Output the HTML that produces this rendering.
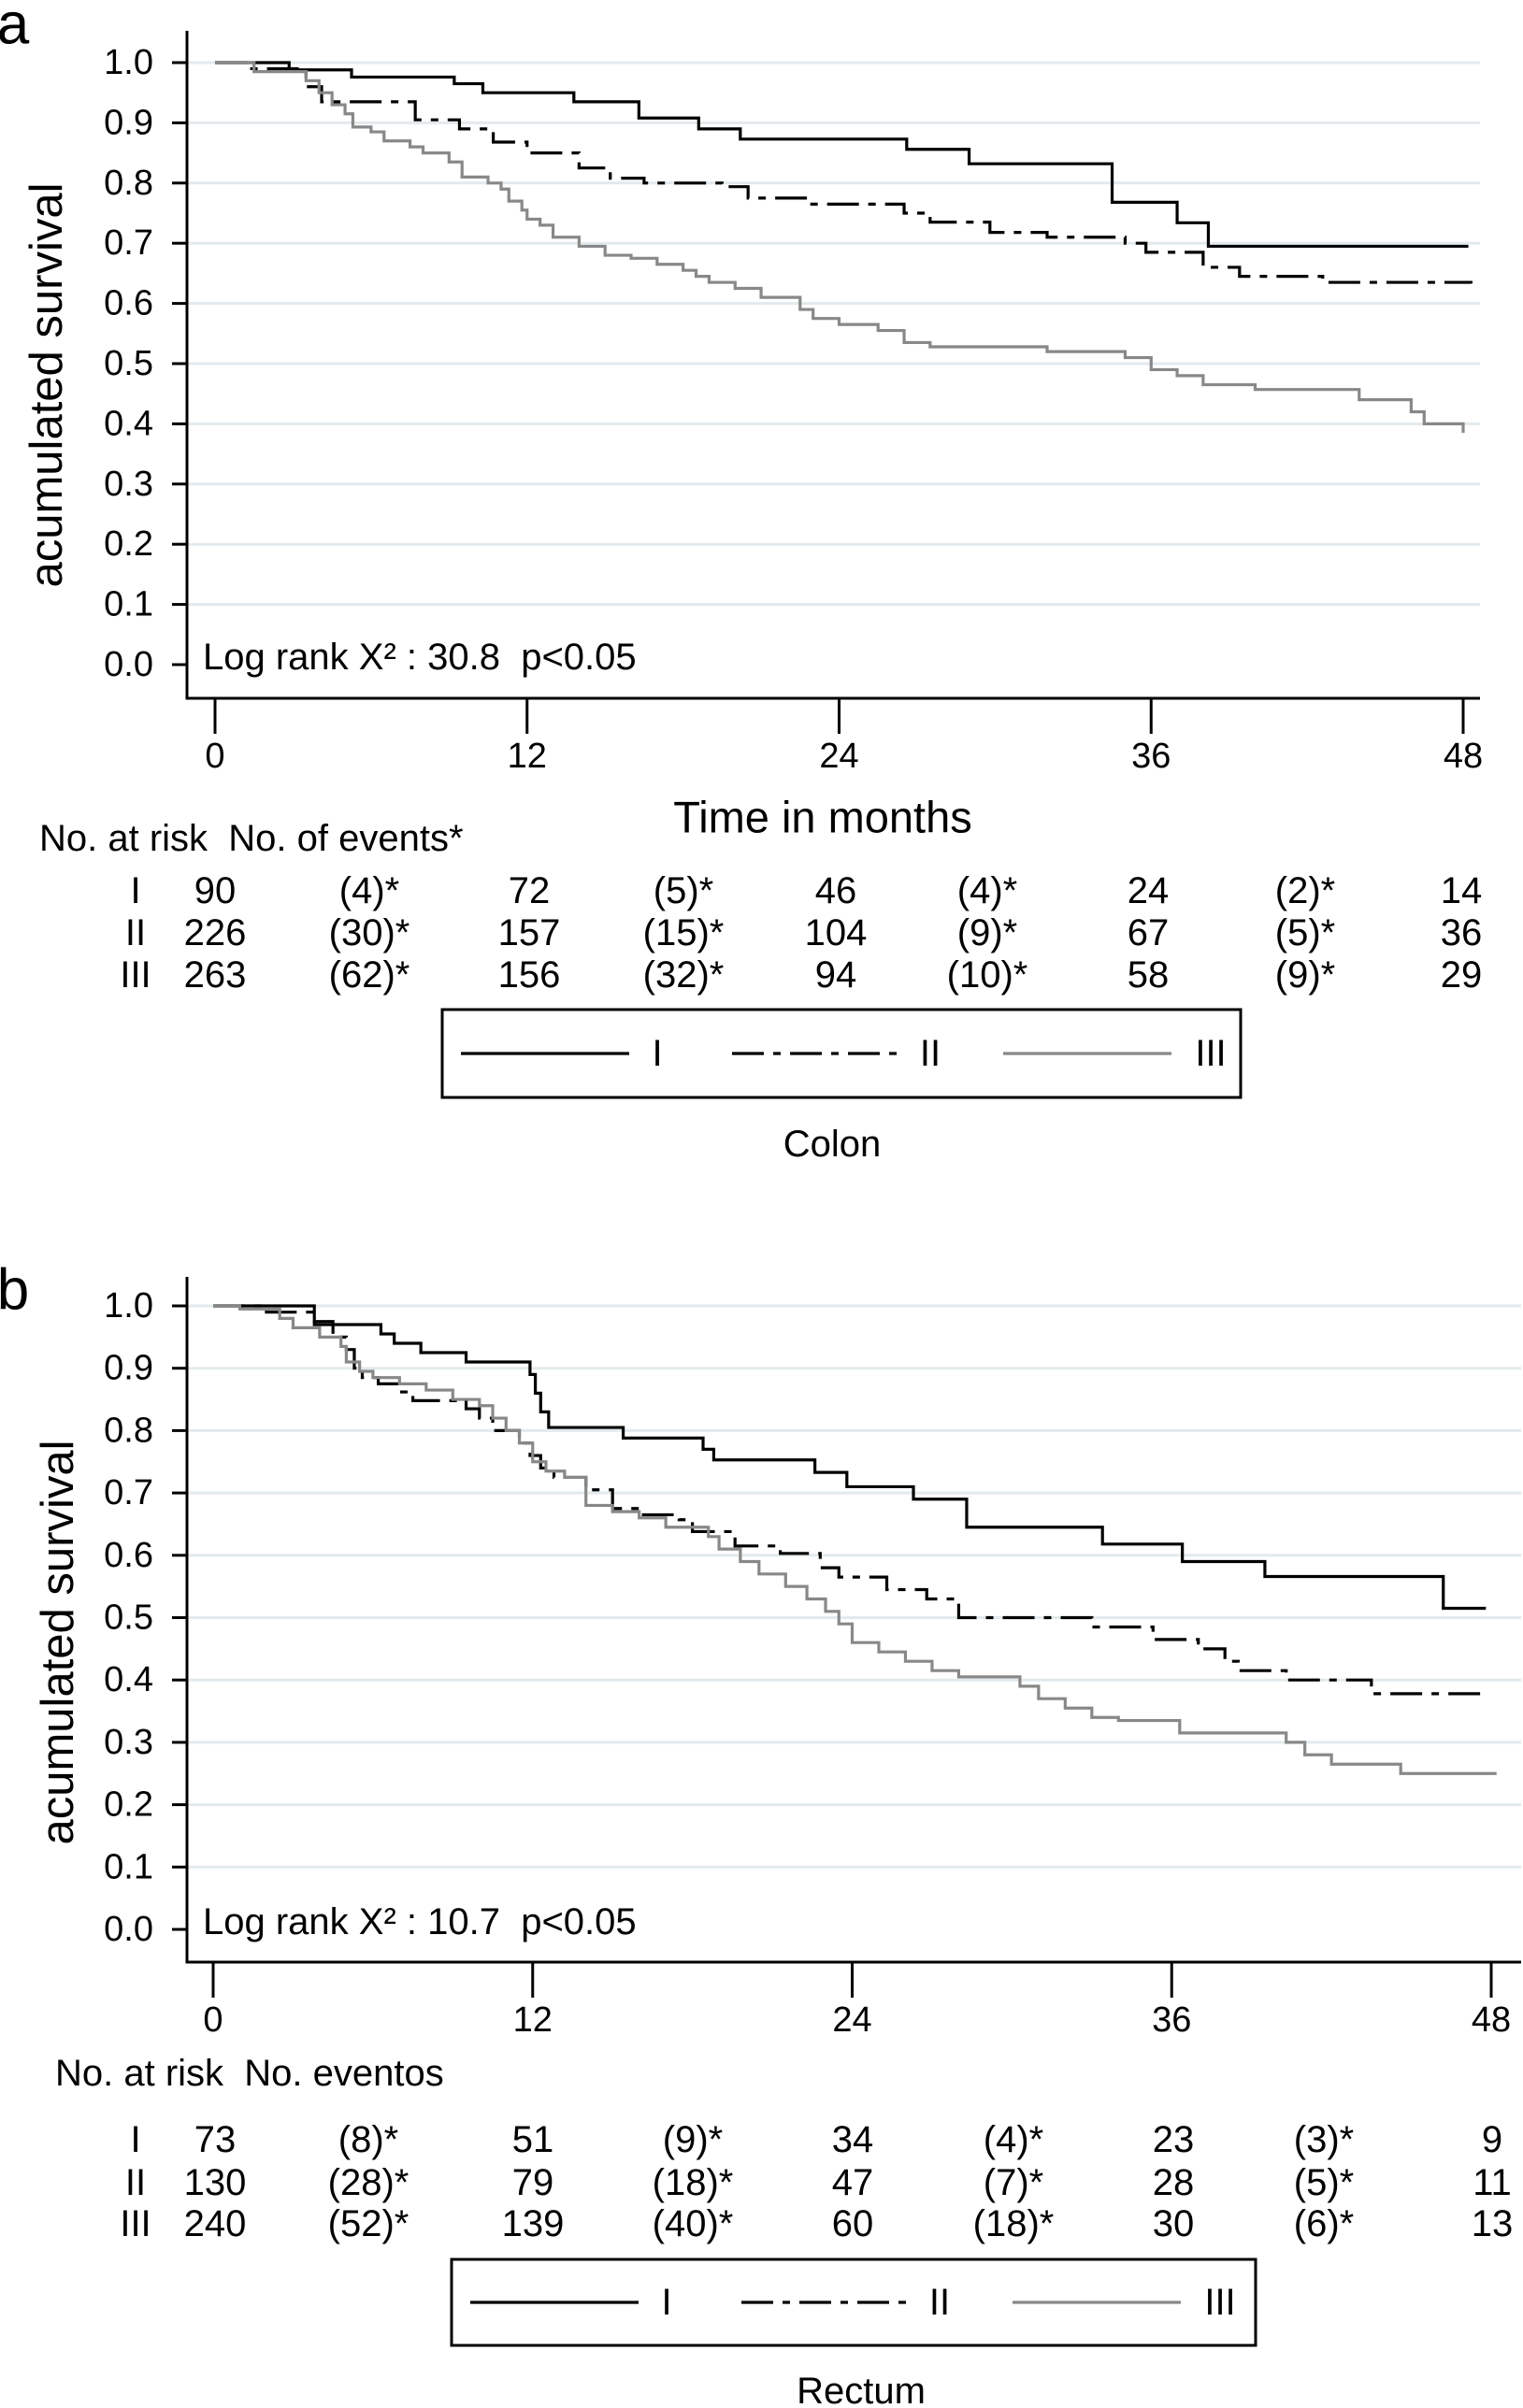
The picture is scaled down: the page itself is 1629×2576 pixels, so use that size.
<!DOCTYPE html>
<html><head><meta charset="utf-8"><style>
html,body{margin:0;padding:0;background:#fff;}
svg{display:block;font-family:"Liberation Sans",sans-serif;}
svg text{white-space:pre;}
</style></head><body>
<svg id="fig" width="1629" height="2576" viewBox="0 0 1629 2576" xmlns="http://www.w3.org/2000/svg" xml:space="preserve"></svg>
<script>
// ---------- data ----------
const yTicks = [0,0.1,0.2,0.3,0.4,0.5,0.6,0.7,0.8,0.9,1.0];
const xTicks = [0,12,24,36,48];
// Panel a (Colon)
const aI_t = [0,2.85,5.25,9.2,10.3,13.8,16.3,18.6,20.2,26.6,29,34.5,37,38.2,48.2];
const aI_s = [1,0.988,0.976,0.965,0.95,0.935,0.908,0.89,0.873,0.856,0.832,0.768,0.734,0.695,0.695];
const aII_t = [0,1.2,3.5,4.1,7.7,9.4,10.7,12,14,15.2,16.5,19.5,20.5,22.8,26.5,27.5,29.8,32,35,35.8,38,39.4,42.6,48.3];
const aII_s = [1,0.99,0.96,0.935,0.905,0.89,0.868,0.85,0.825,0.808,0.80,0.794,0.775,0.765,0.75,0.735,0.718,0.71,0.70,0.685,0.66,0.645,0.635,0.633];
const aIII_t = [0,1.5,3.5,4,4.5,5,5.3,6,6.5,7.5,8,9,9.5,10.5,11,11.3,11.8,12,12.5,13,14,15,16,17,18,18.5,19,20,21,22.5,23,24,25.5,26.5,27.5,32,35,36,37,38,40,44,46,46.5,48];
const aIII_s = [1,0.985,0.97,0.95,0.93,0.915,0.893,0.885,0.87,0.86,0.85,0.835,0.81,0.80,0.79,0.77,0.755,0.74,0.73,0.71,0.695,0.68,0.675,0.665,0.655,0.645,0.635,0.625,0.61,0.59,0.575,0.565,0.555,0.535,0.528,0.52,0.51,0.49,0.48,0.465,0.457,0.44,0.42,0.40,0.385];
// Panel b (Rectum)
const bI_t = [0,3.8,6.3,6.8,7.8,9.5,11.9,12.1,12.3,12.6,15.4,18.4,18.8,22.6,23.8,26.3,28.3,33.4,36.4,39.5,46.2,47.8];
const bI_s = [1,0.97,0.955,0.94,0.925,0.91,0.89,0.86,0.83,0.805,0.788,0.77,0.753,0.733,0.71,0.69,0.645,0.618,0.59,0.566,0.515,0.515];
const bII_t = [0,2,3.8,4.5,5,5.3,5.6,6.2,7,7.5,9.5,10,10.5,11.5,11.9,12.3,12.8,14,15,16,17.5,18,19.6,21.3,22.8,23.5,25.3,26.8,28,33,35.3,37,38,38.5,40.3,43.5,47.9];
const bII_s = [1,0.99,0.975,0.95,0.93,0.90,0.885,0.875,0.862,0.848,0.835,0.82,0.80,0.78,0.76,0.74,0.725,0.705,0.675,0.665,0.657,0.638,0.615,0.603,0.58,0.565,0.545,0.53,0.50,0.485,0.465,0.45,0.43,0.415,0.40,0.378,0.378];
const bIII_t = [0,1,2.5,3,4,4.8,5,5.5,6,7,8,9,10,10.5,11,11.5,12,12.5,13.2,14,15,16,17,18.6,19,19.8,20.5,21.5,22.3,23,23.5,24,25,26,27,28,30.3,31,32,33,34,36.3,40.3,41,42,44.6,48.2];
const bIII_s = [1,0.995,0.98,0.965,0.95,0.935,0.91,0.895,0.885,0.875,0.865,0.85,0.84,0.82,0.80,0.78,0.75,0.735,0.725,0.68,0.67,0.66,0.645,0.63,0.61,0.59,0.57,0.55,0.53,0.51,0.49,0.46,0.445,0.43,0.415,0.405,0.39,0.37,0.355,0.34,0.335,0.315,0.30,0.28,0.265,0.25,0.25];
// risk tables
const aRisk = [["I","90","(4)*","72","(5)*","46","(4)*","24","(2)*","14"],
               ["II","226","(30)*","157","(15)*","104","(9)*","67","(5)*","36"],
               ["III","263","(62)*","156","(32)*","94","(10)*","58","(9)*","29"]];
const bRisk = [["I","73","(8)*","51","(9)*","34","(4)*","23","(3)*","9"],
               ["II","130","(28)*","79","(18)*","47","(7)*","28","(5)*","11"],
               ["III","240","(52)*","139","(40)*","60","(18)*","30","(6)*","13"]];

const NS="http://www.w3.org/2000/svg";
const svg=document.getElementById('fig');
function mk(tag,attrs,parent){const e=document.createElementNS(NS,tag);for(const k in attrs)e.setAttribute(k,attrs[k]);(parent||svg).appendChild(e);return e;}
function txt(s,x,y,size,anchor,parent){const t=mk('text',{x:x,y:y,'font-size':size,'text-anchor':anchor||'middle','dominant-baseline':'central',fill:'#000'},parent);t.textContent=s;return t;}

const styles={I:{stroke:'#000',dash:''},II:{stroke:'#000',dash:'34 10 8 10'},III:{stroke:'#888',dash:''}};

function panel(p){
  const g=mk('g',{});
  
  
  const X=t=>p.x0+(p.x48-p.x0)*t/48;
  const Y=s=>p.y0+(p.y1-p.y0)*s;
  const lab=txt(p.id,14,p.labY,62,'middle',g);
  
  
  yTicks.forEach(v=>{
    if(v>0){const gl=mk('line',{x1:p.axL,x2:p.axR,y1:Y(v),y2:Y(v),stroke:'#e3eaee','stroke-width':3},g);
      
      }
    mk('line',{x1:p.axL-16,x2:p.axL,y1:Y(v),y2:Y(v),stroke:'#000','stroke-width':3},g);
    const t=txt(v.toFixed(1),p.axL-36,Y(v),38,'end',g);
    
    
  });
  const axes=mk('path',{d:`M${p.axL},${p.axT} V${p.axB} H${p.axR}`,fill:'none',stroke:'#000','stroke-width':3},g);
  
  
  xTicks.forEach(v=>{
    mk('line',{x1:X(v),x2:X(v),y1:p.axB,y2:p.axB+38,stroke:'#000','stroke-width':3},g);
    const t=txt(String(v),X(v),p.axB+62,38,'middle',g);
    
    
  });
  const yt=txt('acumulated survival',0,0,49,'middle',g);
  yt.setAttribute('transform',`translate(${p.ytX},${p.ytY}) rotate(-90)`);
  
  
  const lr=txt(p.logrank,217,Y(0)-8,40,'start',g);
  
  
  if(p.xtitle){const xt=txt(p.xtitle,880,874,47,'middle',g);
    
    }
  p.series.forEach(sr=>{
    let d=`M${X(sr.t[0])},${Y(sr.s[0])}`;
    for(let i=1;i<sr.t.length;i++){d+=` H${X(sr.t[i])} V${Y(sr.s[i])}`;}
    const st=styles[sr.k];
    const path=mk('path',{d:d,fill:'none',stroke:st.stroke,'stroke-width':3.2,'stroke-dasharray':st.dash},g);
    
    
  });
  const hd=txt(p.header,p.hdX,p.hdY,40,'start',g);
  
  
  p.risk.forEach((row,ri)=>{
    row.forEach((c,ci)=>{
      const t=txt(c,p.cols[ci],p.rowY[ri],40,'middle',g);
      
      
    });
  });
  const lg=mk('g',{},g);
  
  
  mk('rect',{x:p.lgX,y:p.lgY,width:p.lgW,height:p.lgH,fill:'#fff',stroke:'#000','stroke-width':3},lg);
  const cy=p.lgY+p.lgH/2;
  const ents=[['I',p.lgX+20,p.lgX+200,p.lgX+230],['II',p.lgX+310,p.lgX+490,p.lgX+522],['III',p.lgX+600,p.lgX+780,p.lgX+822]];
  ents.forEach(e=>{
    const st=styles[e[0]];
    const ln=mk('line',{x1:e[1],x2:e[2],y1:cy,y2:cy,stroke:st.stroke,'stroke-width':3.2,'stroke-dasharray':st.dash},lg);
    
    
    const t=txt(e[0],e[3],cy,40,'middle',lg);
    
    
  });
  const cap=txt(p.caption,p.capX,p.capY,40,'middle',g);
  
  
}

panel({id:'a',labY:26,x0:230,x48:1565,y0:711,y1:67,axL:200,axR:1583,axT:33,axB:747,ytX:50,ytY:412,
  logrank:'Log rank X² : 30.8  p<0.05',xtitle:'Time in months',
  series:[{k:'I',t:aI_t,s:aI_s},{k:'II',t:aII_t,s:aII_s},{k:'III',t:aIII_t,s:aIII_s}],
  header:'No. at risk  No. of events*',hdX:42,hdY:897,risk:aRisk,
  cols:[145,230,395,566,731,894,1056,1228,1396,1563],rowY:[953,998,1043],
  lgX:473,lgY:1080,lgW:854,lgH:94,caption:'Colon',capX:890,capY:1224});
panel({id:'b',labY:1380,x0:228,x48:1595,y0:2064,y1:1397,axL:200,axR:1627,axT:1366,axB:2099,ytX:62,ytY:1757,
  logrank:'Log rank X² : 10.7  p<0.05',xtitle:'',
  series:[{k:'I',t:bI_t,s:bI_s},{k:'II',t:bII_t,s:bII_s},{k:'III',t:bIII_t,s:bIII_s}],
  header:'No. at risk  No. eventos',hdX:59,hdY:2218,risk:bRisk,
  cols:[145,230,394,570,741,912,1084,1255,1416,1596],rowY:[2289,2335,2379],
  lgX:483,lgY:2417,lgW:860,lgH:92,caption:'Rectum',capX:921,capY:2558});
</script>
</body></html>
